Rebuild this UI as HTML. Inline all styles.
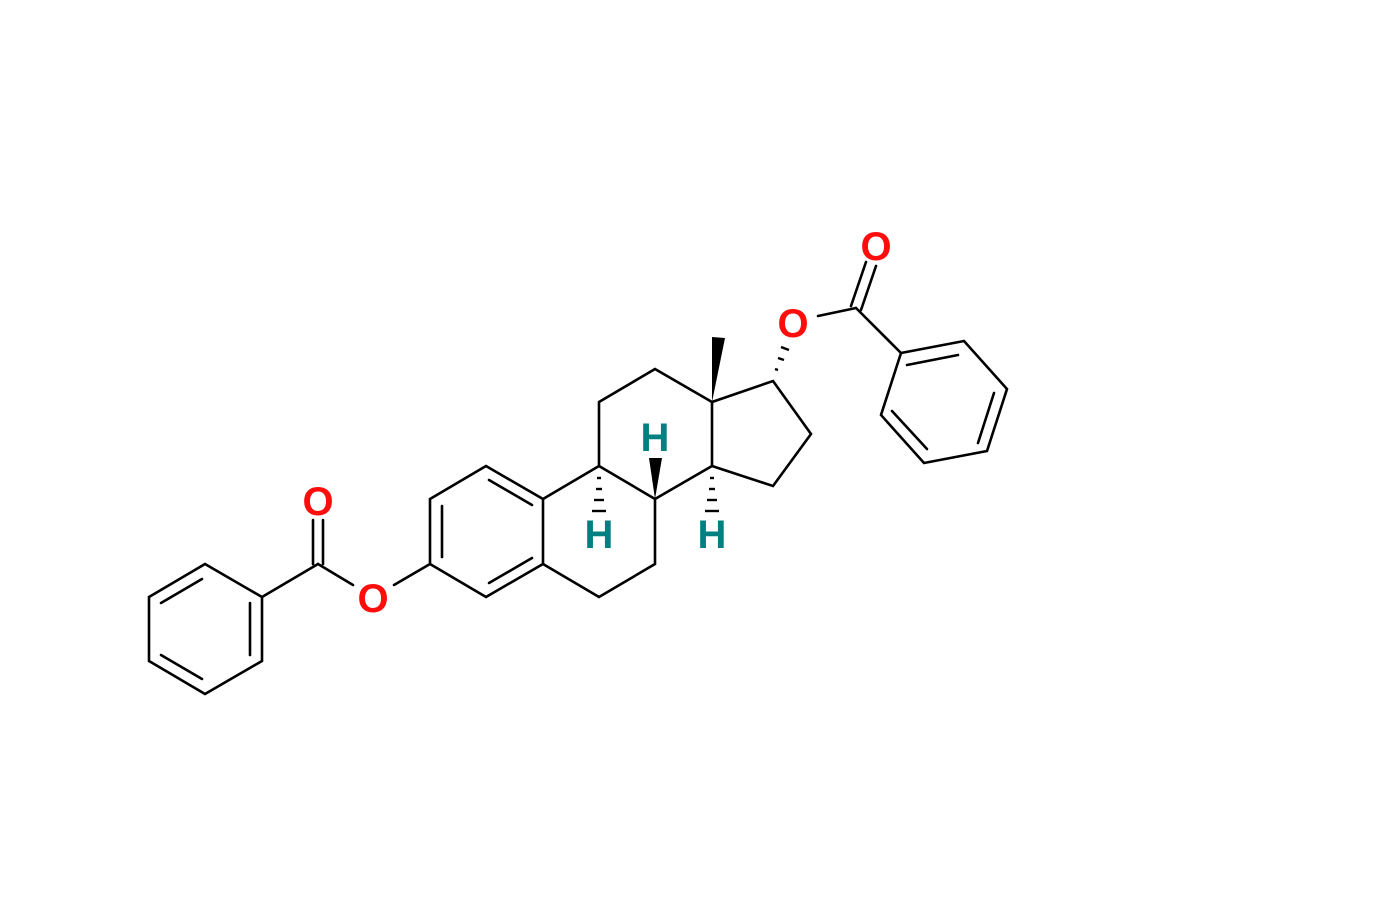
<!DOCTYPE html>
<html><head><style>body{margin:0;background:#fff}svg{display:block}</style></head>
<body>
<svg width="1387" height="910" viewBox="0 0 1387 910" xmlns="http://www.w3.org/2000/svg">
<g stroke="#000" stroke-width="2.6" fill="none" stroke-linecap="round">
<polygon points="205,564 262,597 262,661 205,694 149,661 149,597"/>
<line x1="202" y1="579" x2="161" y2="603"/>
<line x1="250" y1="603" x2="250" y2="655"/>
<line x1="202" y1="679" x2="161" y2="655"/>
<line x1="262" y1="597" x2="318" y2="564"/>
<line x1="313" y1="564" x2="313" y2="520"/>
<line x1="323" y1="564" x2="323" y2="520"/>
<line x1="318" y1="564" x2="353" y2="585"/>
<line x1="394" y1="585" x2="430" y2="564"/>
<polygon points="430,564 430,499 486,466 543,499 543,564 486,597"/>
<line x1="442" y1="557" x2="442" y2="506"/>
<line x1="489" y1="480" x2="532" y2="505"/>
<line x1="532" y1="558" x2="489" y2="583"/>
<polyline points="543,499 599,466 655,499 655,564 599,597 543,564"/>
<polyline points="599,466 599,402 655,369 712,402 712,466 655,499"/>
<polyline points="712,402 773,381 811,434 773,486 712,466"/>
<line x1="818" y1="316" x2="856" y2="308"/>
<line x1="851" y1="306" x2="866" y2="262"/>
<line x1="861" y1="310" x2="876" y2="266"/>
<line x1="856" y1="308" x2="901" y2="353"/>
<polygon points="901,353 964,341 1007,389 987,451 924,463 881,415"/>
<line x1="907" y1="365" x2="958" y2="355"/>
<line x1="994" y1="393" x2="978" y2="443"/>
<line x1="927" y1="449" x2="892" y2="411"/>
</g>
<polygon points="712,402 712,337 725,338" fill="#000"/>
<polygon points="655,499 649,458 662,458" fill="#000"/>
<g stroke="#000" stroke-width="2.4">
<line x1="597" y1="478" x2="601" y2="478"/>
<line x1="596" y1="489" x2="602" y2="489"/>
<line x1="594" y1="500" x2="604" y2="500"/>
<line x1="592" y1="511" x2="606" y2="511"/>
<line x1="710" y1="478" x2="714" y2="478"/>
<line x1="709" y1="489" x2="715" y2="489"/>
<line x1="707" y1="500" x2="717" y2="500"/>
<line x1="705" y1="511" x2="719" y2="511"/>
<line x1="775" y1="369" x2="778" y2="370"/>
<line x1="778" y1="358" x2="784" y2="360"/>
<line x1="781" y1="347" x2="789" y2="350"/>
</g>
<g font-family="Liberation Sans, sans-serif" font-weight="bold" font-size="40" text-anchor="middle">
<text x="318" y="515" fill="#ff0d0d">O</text>
<text x="373" y="612" fill="#ff0d0d">O</text>
<text x="793" y="337" fill="#ff0d0d">O</text>
<text x="876" y="260" fill="#ff0d0d">O</text>
<text x="655" y="451" fill="#008080">H</text>
<text x="599" y="548" fill="#008080">H</text>
<text x="712" y="548" fill="#008080">H</text>
</g>
</svg>
</body></html>
